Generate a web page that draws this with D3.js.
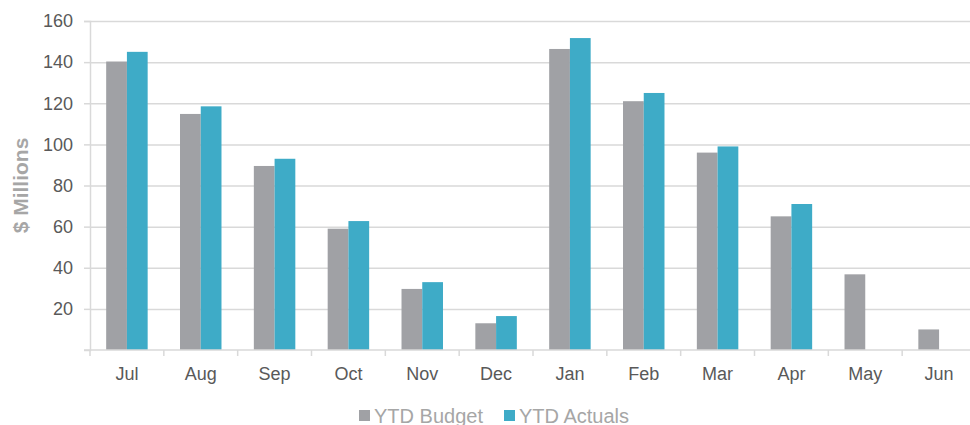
<!DOCTYPE html>
<html>
<head>
<meta charset="utf-8">
<script src="https://cdn.jsdelivr.net/npm/d3@7"></script>
<style>
  html, body { margin: 0; padding: 0; background: #fff; }
  svg { display: block; font-family: "Liberation Sans", Arial, sans-serif; }
</style>
</head>
<body>
<svg id="chart" width="970" height="425"></svg>
<script>
const months = ["Jul", "Aug", "Sep", "Oct", "Nov", "Dec", "Jan", "Feb", "Mar", "Apr", "May", "Jun"]
const budget = [140.3, 114.8, 89.5, 59, 29.7, 13, 146.4, 121, 96, 65, 36.8, 10]
const actuals = [145, 118.5, 93, 62.7, 33, 16.5, 151.7, 125, 99, 71, null, null]
const yTicks = [20, 40, 60, 80, 100, 120, 140, 160]
const seriesNames = ["YTD Budget", "YTD Actuals"]
const colors = ["#a0a1a5", "#3eabc7"]

const width = 970, height = 425
const margin = { top: 21, right: -6, bottom: 75, left: 90 }

const svg = d3.select("#chart")

const x = d3.scaleBand()
  .domain(months)
  .range([margin.left, width - margin.right])

const inner = d3.scaleBand()
  .domain([0, 1])
  .range([0, x.bandwidth()])
  .paddingInner(0)
  .paddingOuter(0.78)

const y = d3.scaleLinear()
  .domain([0, 160])
  .range([height - margin.bottom, margin.top])

// gridlines + y labels
const yAxis = g => g
  .attr("transform", `translate(${margin.left},0)`)
  .call(d3.axisLeft(y).tickValues(yTicks).tickSize(6).tickPadding(11))
  .call(g => g.select(".domain").attr("stroke", "#d9d9d9").attr("stroke-width", 1.5))
  .call(g => g.selectAll(".tick line").clone()
      .attr("x2", width - margin.left - margin.right)
      .attr("stroke", "#d9d9d9").attr("stroke-width", 1.5))
  .call(g => g.selectAll(".tick line").attr("stroke", "#d9d9d9").attr("stroke-width", 1.5))
  .call(g => g.selectAll(".tick text").attr("fill", "#595959").attr("font-size", 18))

svg.append("g").call(yAxis)

// bars
const groups = svg.append("g")
  .selectAll("g")
  .data(months.map((m, i) => ({ m, vals: [budget[i], actuals[i]] })))
  .join("g")
  .attr("transform", d => `translate(${x(d.m)},0)`)

groups.selectAll("rect")
  .data(d => d.vals.map((v, k) => ({ k, v })).filter(e => e.v != null))
  .join("rect")
  .attr("x", d => inner(d.k))
  .attr("width", inner.bandwidth())
  .attr("y", d => y(d.v))
  .attr("height", d => y(0) - y(d.v))
  .attr("fill", d => colors[d.k])

// x axis
const xAxis = g => g
  .attr("transform", `translate(0,${y(0)})`)
  .call(d3.axisBottom(x).tickSize(0).tickPadding(17).tickSizeOuter(0))
  .call(g => g.select(".domain").remove())
  .call(g => g.selectAll(".tick text").attr("fill", "#595959").attr("font-size", 18))

svg.append("g").call(xAxis)

// baseline and separator ticks
svg.append("line")
  .attr("x1", margin.left - 6).attr("x2", width - margin.right)
  .attr("y1", y(0)).attr("y2", y(0))
  .attr("stroke", "#d9d9d9").attr("stroke-width", 1.5)

svg.append("g")
  .selectAll("line")
  .data(months)
  .join("line")
  .attr("x1", d => x(d)).attr("x2", d => x(d))
  .attr("y1", y(0)).attr("y2", y(0) + 6)
  .attr("stroke", "#d9d9d9").attr("stroke-width", 1.5)

// y title
svg.append("text")
  .attr("transform", `translate(28,${(y(0) + y(160)) / 2}) rotate(-90)`)
  .attr("text-anchor", "middle")
  .attr("fill", "#a6a6a6")
  .attr("font-weight", "bold")
  .attr("font-size", 21)
  .text("$ Millions")

// legend
const legend = svg.append("g").attr("transform", "translate(359,0)")
const lx = [0, 145]
seriesNames.forEach((name, i) => {
  legend.append("rect")
    .attr("x", lx[i]).attr("y", 410)
    .attr("width", 11).attr("height", 11)
    .attr("fill", colors[i])
  legend.append("text")
    .attr("x", lx[i] + 15).attr("y", 423)
    .attr("fill", "#a6a6a6")
    .attr("font-size", 20)
    .text(name)
})
</script>
</body>
</html>
